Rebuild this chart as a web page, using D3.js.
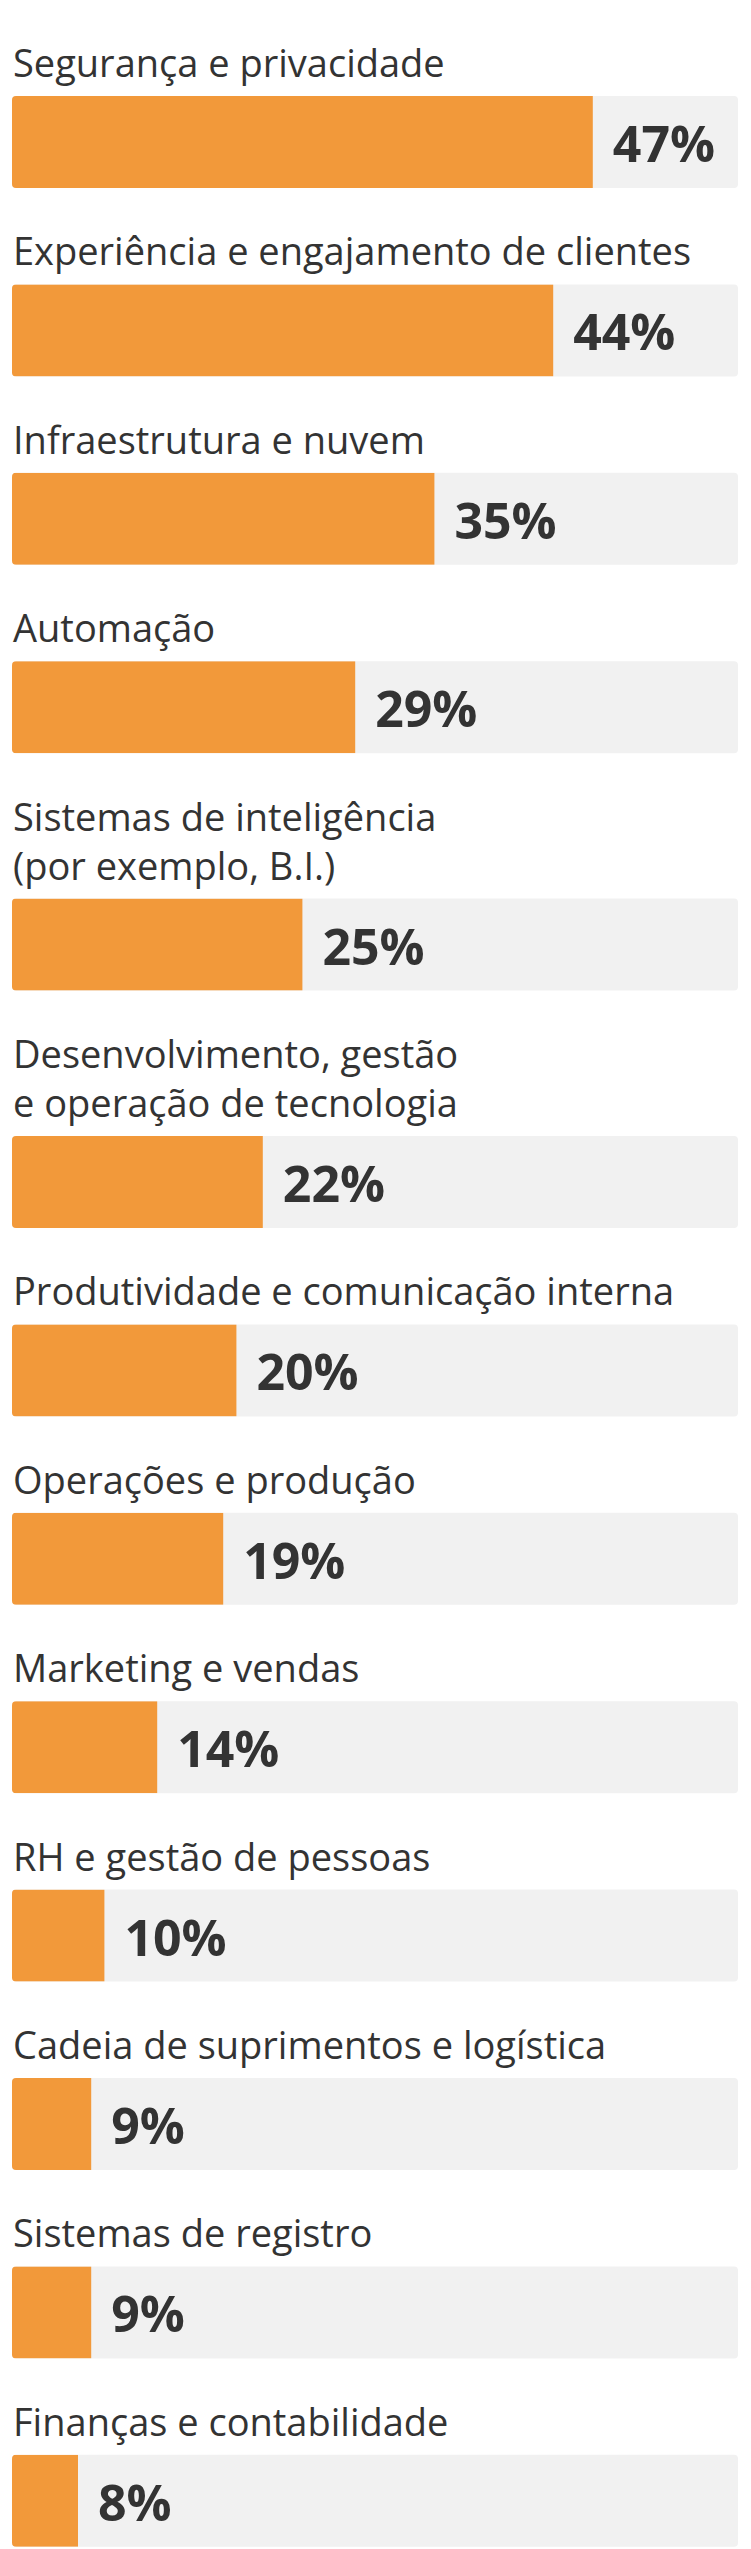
<!DOCTYPE html>
<html>
<head>
<meta charset="utf-8">
<script src="https://cdn.jsdelivr.net/npm/d3@7"></script>
<style>
  body { margin: 0; background: #fff; }
  svg { display: block; }
  .label { font-family: "Open Sans", sans-serif; font-size: 38px; fill: #333; }
  .value { font-family: "Open Sans", sans-serif; font-size: 50px; font-weight: 700; fill: #333; }
</style>
</head>
<body>
<svg width="751" height="2549"></svg>
<script>
// categories (each entry is the wrapped label lines)
const categories = [
  ["Segurança e privacidade"],
  ["Experiência e engajamento de clientes"],
  ["Infraestrutura e nuvem"],
  ["Automação"],
  ["Sistemas de inteligência", "(por exemplo, B.I.)"],
  ["Desenvolvimento, gestão", "e operação de tecnologia"],
  ["Produtividade e comunicação interna"],
  ["Operações e produção"],
  ["Marketing e vendas"],
  ["RH e gestão de pessoas"],
  ["Cadeia de suprimentos e logística"],
  ["Sistemas de registro"],
  ["Finanças e contabilidade"]
];

const values = [47, 44, 35, 29, 25, 22, 20, 19, 14, 10, 9, 9, 8];

const valueLabels = values.map(function(v) { return v + "%"; });

const svg = d3.select("svg"),
    margin = {top: 96, left: 12, right: 13},
    width = 751 - margin.left - margin.right,
    barHeight = 92,
    lineHeight = 49,
    rowStep = 188.4,
    labelGap = 19;

// row tops: fixed step plus room for extra label lines
let extra = 0;
const rows = categories.map(function(lines, i) {
    extra += lines.length - 1;
    return {
        lines: lines,
        value: values[i],
        text: valueLabels[i],
        top: margin.top + i * rowStep + extra * lineHeight
    };
});

const x = d3.scaleLinear()
    .domain([3, 58])
    .range([0, width]);

const g = svg.append("g")
    .attr("transform", "translate(" + margin.left + ",0)");

const defs = svg.append("defs");

defs.selectAll("clipPath")
    .data(rows)
    .enter().append("clipPath")
      .attr("id", function(d, i) { return "track" + i; })
    .append("rect")
      .attr("x", 0)
      .attr("y", function(d) { return d.top; })
      .attr("width", width)
      .attr("height", barHeight)
      .attr("rx", 4);

const row = g.selectAll(".row")
    .data(rows)
    .enter().append("g")
      .attr("class", "row");

// grey track
row.append("rect")
    .attr("x", 0)
    .attr("y", function(d) { return d.top; })
    .attr("width", width)
    .attr("height", barHeight)
    .attr("rx", 4)
    .attr("fill", "#f1f1f1");

// orange bar, clipped to the rounded track
row.append("rect")
    .attr("clip-path", function(d, i) { return "url(#track" + i + ")"; })
    .attr("x", 0)
    .attr("y", function(d) { return d.top; })
    .attr("width", function(d) { return x(d.value); })
    .attr("height", barHeight)
    .attr("fill", "#f2993a");

// category label above bar
row.append("text")
    .attr("class", "label")
    .attr("x", 1)
    .attr("y", function(d) { return d.top - labelGap - (d.lines.length - 1) * lineHeight; })
  .selectAll("tspan")
    .data(function(d) { return d.lines; })
    .enter().append("tspan")
      .attr("x", 1)
      .attr("dy", function(d, i) { return i ? lineHeight : 0; })
      .text(function(d) { return d; });

// value label right of bar
row.append("text")
    .attr("class", "value")
    .attr("x", function(d) { return x(d.value) + 20; })
    .attr("y", function(d) { return d.top + 66; })
    .text(function(d) { return d.text; });
</script>
</body>
</html>
